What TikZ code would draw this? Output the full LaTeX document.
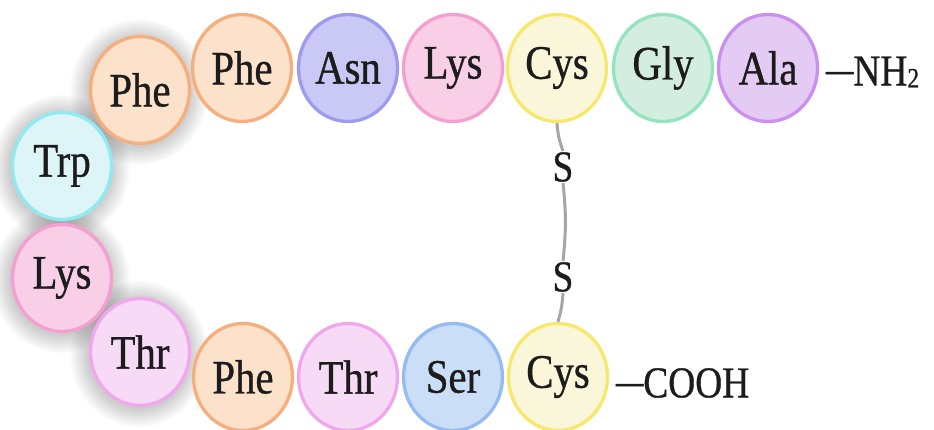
\documentclass[tikz,border=0pt]{standalone}
\usepackage{fontspec}
\setmainfont{Liberation Serif}[FakeStretch=0.85, FakeBold=0.7]
\usetikzlibrary{shapes.geometric,calc}

% residue colours: fill / rim
\definecolor{pheF}{HTML}{FCE1CB}\definecolor{pheD}{HTML}{F5AE7C}
\definecolor{asnF}{HTML}{CAC8F5}\definecolor{asnD}{HTML}{9D9AF0}
\definecolor{lysF}{HTML}{F8CFE6}\definecolor{lysD}{HTML}{F49ED2}
\definecolor{cysF}{HTML}{FAF6DA}\definecolor{cysD}{HTML}{F7E86C}
\definecolor{glyF}{HTML}{D4EDE1}\definecolor{glyD}{HTML}{94E5BD}
\definecolor{alaF}{HTML}{E4CBF3}\definecolor{alaD}{HTML}{CA8FEF}
\definecolor{trpF}{HTML}{DDF5F7}\definecolor{trpD}{HTML}{8FEAF1}
\definecolor{thrF}{HTML}{F6DAF6}\definecolor{thrD}{HTML}{F0A7EE}
\definecolor{serF}{HTML}{CBDEF8}\definecolor{serD}{HTML}{95BBF4}
\definecolor{inkc}{HTML}{1C1C1C}
\definecolor{bondc}{HTML}{A6A6A6}

\tikzset{
  res/.style={ellipse, line width=3.3pt, minimum width=99pt, minimum height=107pt,
    inner sep=0pt, font=\fontsize{48}{48}\selectfont, text=inkc},
  phe/.style={res, fill=pheF, draw=pheD},
  asn/.style={res, fill=asnF, draw=asnD},
  lys/.style={res, fill=lysF, draw=lysD},
  cys/.style={res, fill=cysF, draw=cysD},
  gly/.style={res, fill=glyF, draw=glyD},
  ala/.style={res, fill=alaF, draw=alaD},
  trp/.style={res, fill=trpF, draw=trpD},
  thr/.style={res, fill=thrF, draw=thrD},
  ser/.style={res, fill=serF, draw=serD},
  sulfur/.style={inner sep=1pt, font=\fontsize{44}{44}\selectfont, text=inkc},
  terminus/.style={anchor=west, inner sep=0pt, font=\fontsize{44}{44}\selectfont, text=inkc},
  bond/.style={draw=bondc, line width=3pt},
  halo/.style={fill=black, fill opacity=0.018}
}
\newcommand{\bigdash}{\raisebox{2pt}{\scalebox{1.45}[1]{\textendash}}}

\begin{document}
\begin{tikzpicture}[x=1pt, y=-1pt]
  \fill[white] (0,0) rectangle (934,430);
  \useasboundingbox (0,0) rectangle (934,430);

  % residue centres on the turn
  \coordinate (pPheA) at (140,90);
  \coordinate (pTrp)  at (62,166);
  \coordinate (pLysL) at (62,278);
  \coordinate (pThrL) at (140,352);

  % soft shadow under the turn of the chain
  \foreach \c in {pPheA,pTrp,pLysL,pThrL}
    \foreach \k in {1,...,10}
      \path[halo] ($(\c)+(-1,2)$) ellipse [x radius={50pt+1.9pt*\k}, y radius={54pt+1.9pt*\k}];

  % upper strand (N-terminal end on the right)
  \node[phe] (pheA) at (pPheA) {Phe};
  \node[phe] (pheB) at (242,68) {Phe};
  \node[asn] (asn)  at (348,68) {Asn};
  \node[lys] (lysT) at (453,68) {Lys};
  \node[cys] (cysT) at (557,68) {Cys};
  \node[gly] (gly)  at (663,68) {Gly};
  \node[ala] (ala)  at (768,68) {Ala};

  % turn
  \node[trp] (trp)  at (pTrp)  {Trp};
  \node[lys] (lysL) at (pLysL) {Lys};
  \node[thr] (thrL) at (pThrL) {Thr};

  % lower strand (C-terminal end on the right)
  \node[phe] (pheC) at (243,377) {Phe};
  \node[thr] (thrB) at (348,377) {Thr};
  \node[ser] (ser)  at (453,377) {Ser};
  \node[cys] (cysB) at (558,377) {Cys};

  % termini
  \node[terminus] (nh2)  at (826,72)  {\bigdash NH\raisebox{-2pt}{\fontsize{28}{28}\selectfont 2}};
  \node[terminus] (cooh) at (616,383) {\bigdash COOH};

  % disulfide bridge
  \node[sulfur] (s1) at (563,167) {S};
  \node[sulfur] (s2) at (563,277) {S};
  \draw[bond] (cysT.south) to[bend right=8] (s1.north);
  \draw[bond] (s1.south) to[bend left=6] (s2.north);
  \draw[bond] (s2.south) to[bend left=6] (cysB.north);
\end{tikzpicture}
\end{document}
